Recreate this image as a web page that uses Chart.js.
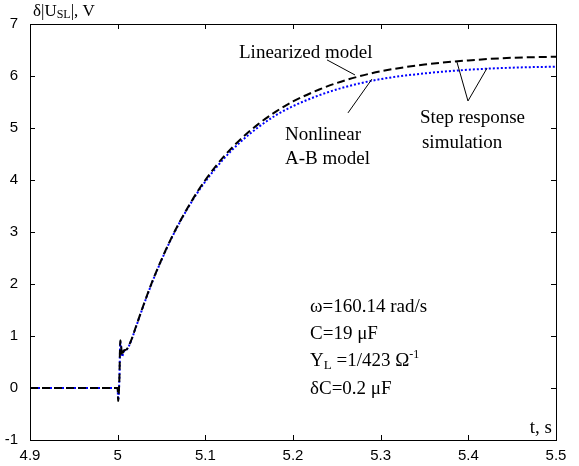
<!DOCTYPE html>
<html>
<head>
<meta charset="utf-8">
<script src="https://cdn.jsdelivr.net/npm/chart.js@4.4.1/dist/chart.umd.min.js"></script>
<style>
html,body{margin:0;padding:0;background:#fff;}
#wrap{width:579px;height:466px;position:relative;}
</style>
</head>
<body>
<div id="wrap"><canvas id="c" width="579" height="466"></canvas></div>
<script>
// ---- data ----
const timeS = [4.9, 5.0, 5.0005, 5.002, 5.003, 5.004, 5.005, 5.007, 5.01, 5.015, 5.02, 5.03, 5.04, 5.05, 5.06, 5.07, 5.08, 5.09, 5.10, 5.12, 5.14, 5.16, 5.18, 5.20, 5.23, 5.26, 5.30, 5.35, 5.40, 5.45, 5.50];
const linearizedModel = [0, 0, -0.25, 0.2, 0.92, 0.8, 0.62, 0.72, 0.74, 0.9, 1.14, 1.62, 2.07, 2.47, 2.84, 3.17, 3.47, 3.75, 4.0, 4.43, 4.78, 5.07, 5.31, 5.51, 5.74, 5.92, 6.09, 6.22, 6.30, 6.35, 6.37];
const nonlinearABModel = [0, 0, -0.22, 0.2, 0.88, 0.78, 0.6, 0.7, 0.73, 0.89, 1.13, 1.61, 2.06, 2.46, 2.83, 3.16, 3.46, 3.73, 3.97, 4.39, 4.73, 5.01, 5.24, 5.42, 5.63, 5.79, 5.94, 6.05, 6.12, 6.16, 6.18];
const xTickLabels = ['4.9', '5', '5.1', '5.2', '5.3', '5.4', '5.5'];
const yTickLabels = ['-1', '0', '1', '2', '3', '4', '5', '6', '7'];

const SERIF = '"Liberation Serif", "Times New Roman", serif';
const SANS = '"Liberation Sans", Arial, sans-serif';

function pts(xs, ys){ return xs.map((x,i)=>({x:x, y:ys[i]})); }

const decor = {
  id: 'decor',
  afterDraw(chart){
    const ctx = chart.ctx, a = chart.chartArea;
    const xs = chart.scales.x, ys = chart.scales.y;
    const X = v => xs.getPixelForValue(v), Y = v => ys.getPixelForValue(v);
    ctx.save();
    // frame
    ctx.strokeStyle = '#000'; ctx.lineWidth = 1;
    ctx.strokeRect(a.left + 0.5, a.top + 0.5, a.right - a.left, a.bottom - a.top);
    // inward ticks on all four sides
    const tl = 5;
    ctx.beginPath();
    xs.ticks.forEach(t => {
      const px = Math.round(X(t.value)) + 0.5;
      ctx.moveTo(px, a.bottom); ctx.lineTo(px, a.bottom - tl);
      ctx.moveTo(px, a.top); ctx.lineTo(px, a.top + tl);
    });
    ys.ticks.forEach(t => {
      const py = Math.round(Y(t.value)) + 0.5;
      ctx.moveTo(a.left, py); ctx.lineTo(a.left + tl, py);
      ctx.moveTo(a.right, py); ctx.lineTo(a.right - tl, py);
    });
    ctx.stroke();

    // leader lines (data coordinates)
    ctx.lineWidth = 1;
    const seg = (x1,y1,x2,y2) => { ctx.beginPath(); ctx.moveTo(X(x1),Y(y1)); ctx.lineTo(X(x2),Y(y2)); ctx.stroke(); };
    seg(5.2388, 6.31, 5.2707, 6.02);
    seg(5.2627, 5.29, 5.2900, 5.94);
    seg(5.3996, 5.52, 5.3870, 6.27);
    seg(5.3996, 5.52, 5.4213, 6.15);

    // annotation text
    ctx.fillStyle = '#000';
    ctx.textAlign = 'left'; ctx.textBaseline = 'alphabetic';
    ctx.font = '19px ' + SERIF;
    ctx.fillText('Linearized model', X(5.1384), Y(6.346));
    ctx.fillText('Nonlinear', X(5.1909), Y(4.769));
    ctx.fillText('A-B model', X(5.1909), Y(4.308));
    ctx.fillText('Step response', X(5.3449), Y(5.096));
    ctx.fillText('simulation', X(5.3471), Y(4.615));

    // parameter block
    const lx = X(5.2194);
    ctx.fillText('\u03c9=160.14 rad/s', lx, Y(1.46));
    ctx.fillText('C=19 \u03bcF', lx, Y(0.94));
    // Y_L =1/423 Ω^-1
    let x = lx, yb = Y(0.42);
    ctx.font = '19px ' + SERIF; ctx.fillText('Y', x, yb); x += ctx.measureText('Y').width;
    ctx.font = '13px ' + SERIF; ctx.fillText('L', x, yb + 3); x += ctx.measureText('L').width;
    ctx.font = '19px ' + SERIF; ctx.fillText(' =1/423 \u03a9', x, yb); x += ctx.measureText(' =1/423 \u03a9').width;
    ctx.font = '12px ' + SERIF; ctx.fillText('-1', x, yb - 8);
    ctx.font = '19px ' + SERIF;
    ctx.fillText('\u03b4C=0.2 \u03bcF', lx, Y(-0.12));

    // axis titles
    ctx.textAlign = 'right';
    ctx.fillText('t, s', a.right - 4, Y(-0.87));
    ctx.textAlign = 'left';
    x = 33; yb = 16;
    ctx.font = '17px ' + SERIF; ctx.fillText('\u03b4|U', x, yb); x += ctx.measureText('\u03b4|U').width;
    ctx.font = '12px ' + SERIF; ctx.fillText('SL', x, yb + 2); x += ctx.measureText('SL').width;
    ctx.font = '17px ' + SERIF; ctx.fillText('|, V', x, yb);
    ctx.restore();
  }
};

new Chart(document.getElementById('c'), {
  type: 'line',
  data: {
    datasets: [
      {
        label: 'Linearized model',
        data: pts(timeS, linearizedModel),
        borderColor: '#000000',
        borderWidth: 2,
        borderDash: [8, 4],
        pointRadius: 0,
        fill: false,
        cubicInterpolationMode: 'monotone'
      },
      {
        label: 'Nonlinear A-B model',
        data: pts(timeS, nonlinearABModel),
        borderColor: '#0000ff',
        borderWidth: 2,
        borderDash: [2, 2],
        pointRadius: 0,
        fill: false,
        cubicInterpolationMode: 'monotone'
      }
    ]
  },
  options: {
    responsive: false,
    animation: false,
    events: [],
    layout: { padding: { top: 24, right: 23, left: 0, bottom: 0 } },
    plugins: { legend: { display: false }, tooltip: { enabled: false } },
    scales: {
      x: {
        type: 'linear', min: 4.9, max: 5.5,
        afterBuildTicks: s => { s.ticks = xTickLabels.map(v => ({ value: parseFloat(v) })); },
        afterFit: s => { s.height = 26; },
        ticks: {
          autoSkip: false, maxRotation: 0, padding: -1,
          color: '#000', font: { family: SANS, size: 15 },
          callback: (v, i) => xTickLabels[i]
        },
        grid: { display: false },
        border: { display: false }
      },
      y: {
        type: 'linear', min: -1, max: 7,
        afterBuildTicks: s => { s.ticks = yTickLabels.map(v => ({ value: parseFloat(v) })); },
        afterFit: s => { s.width = 30; },
        ticks: {
          autoSkip: false, padding: 4,
          color: '#000', font: { family: SANS, size: 15 },
          callback: (v, i) => yTickLabels[i]
        },
        grid: { display: false },
        border: { display: false }
      }
    }
  },
  plugins: [decor]
});
</script>
</body>
</html>
